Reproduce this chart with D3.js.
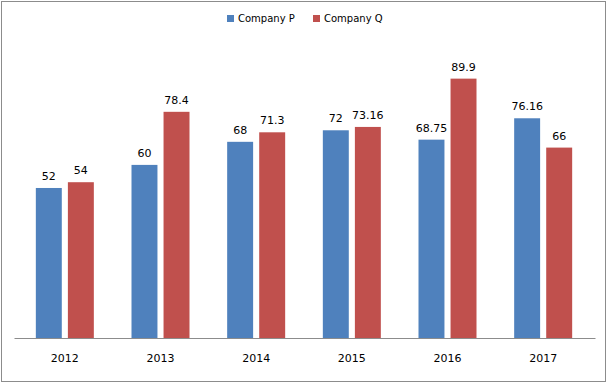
<!DOCTYPE html>
<html>
<head>
<meta charset="utf-8">
<script src="https://cdn.jsdelivr.net/npm/d3@7"></script>
<style>
  body { margin: 0; background: #fff; }
  text { font-family: "DejaVu Sans", Verdana, sans-serif; fill: #000; }
</style>
</head>
<body>
<svg id="chart" width="609" height="385"></svg>
<script>
const years = ["2012", "2013", "2014", "2015", "2016", "2017"];
const seriesNames = ["Company P", "Company Q"];
const companyP = [52, 60, 68, 72, 68.75, 76.16];
const companyQ = [54, 78.4, 71.3, 73.16, 89.9, 66];
const colors = ["#4f81bd", "#c0504d"];

const svg = d3.select("#chart");

// outer frame
svg.append("rect")
    .attr("x", 1.5).attr("y", 1.5)
    .attr("width", 604).attr("height", 380)
    .attr("fill", "none")
    .attr("stroke", "#8c8c8c");

const plot = { left: 17, right: 591, bottom: 338 };

const x = d3.scaleBand()
    .domain(years)
    .range([plot.left, plot.right]);

const inner = d3.scaleBand()
    .domain(seriesNames)
    .range([0, 58])
    .paddingInner(0.19);

// 0 -> 338, 52 -> 188
const y = d3.scaleLinear()
    .domain([0, 100])
    .range([plot.bottom, plot.bottom - 288.5]);

const rows = years.map((yr, i) => ({ year: yr, values: [companyP[i], companyQ[i]] }));

const groups = svg.append("g")
    .selectAll("g")
    .data(rows)
    .join("g")
    .attr("transform", d => `translate(${x(d.year) + x.bandwidth() / 2 - 29},0)`);

groups.selectAll("rect")
    .data(d => d.values.map((v, k) => ({ name: seriesNames[k], value: v, k })))
    .join("rect")
    .attr("x", d => inner(d.name))
    .attr("y", d => y(d.value))
    .attr("width", inner.bandwidth())
    .attr("height", d => plot.bottom - y(d.value))
    .attr("fill", d => colors[d.k]);

groups.selectAll("text")
    .data(d => d.values.map((v, k) => ({ name: seriesNames[k], value: v })))
    .join("text")
    .attr("x", d => inner(d.name) + inner.bandwidth() / 2)
    .attr("y", d => y(d.value) - 8)
    .attr("text-anchor", "middle")
    .style("font-size", "11px")
    .text(d => d.value);

// x axis
const xAxis = svg.append("g")
    .attr("transform", `translate(0,${plot.bottom})`)
    .call(d3.axisBottom(x).tickSize(0).tickPadding(16));
xAxis.select(".domain")
    .attr("d", "M14.5,0.5H595.5")
    .attr("stroke", "#8c8c8c");
xAxis.selectAll("text")
    .style("font-size", "11px")
    .style("font-family", "'DejaVu Sans', Verdana, sans-serif");

// legend
const legend = svg.append("g").attr("transform", "translate(227,15)");
const legendX = [0, 86];
seriesNames.forEach((name, k) => {
    const g = legend.append("g").attr("transform", `translate(${legendX[k]},0)`);
    g.append("rect").attr("width", 7).attr("height", 7).attr("fill", colors[k]);
    g.append("text")
        .attr("x", 11).attr("y", 7)
        .style("font-size", "10px")
        .text(name);
});
</script>
</body>
</html>
